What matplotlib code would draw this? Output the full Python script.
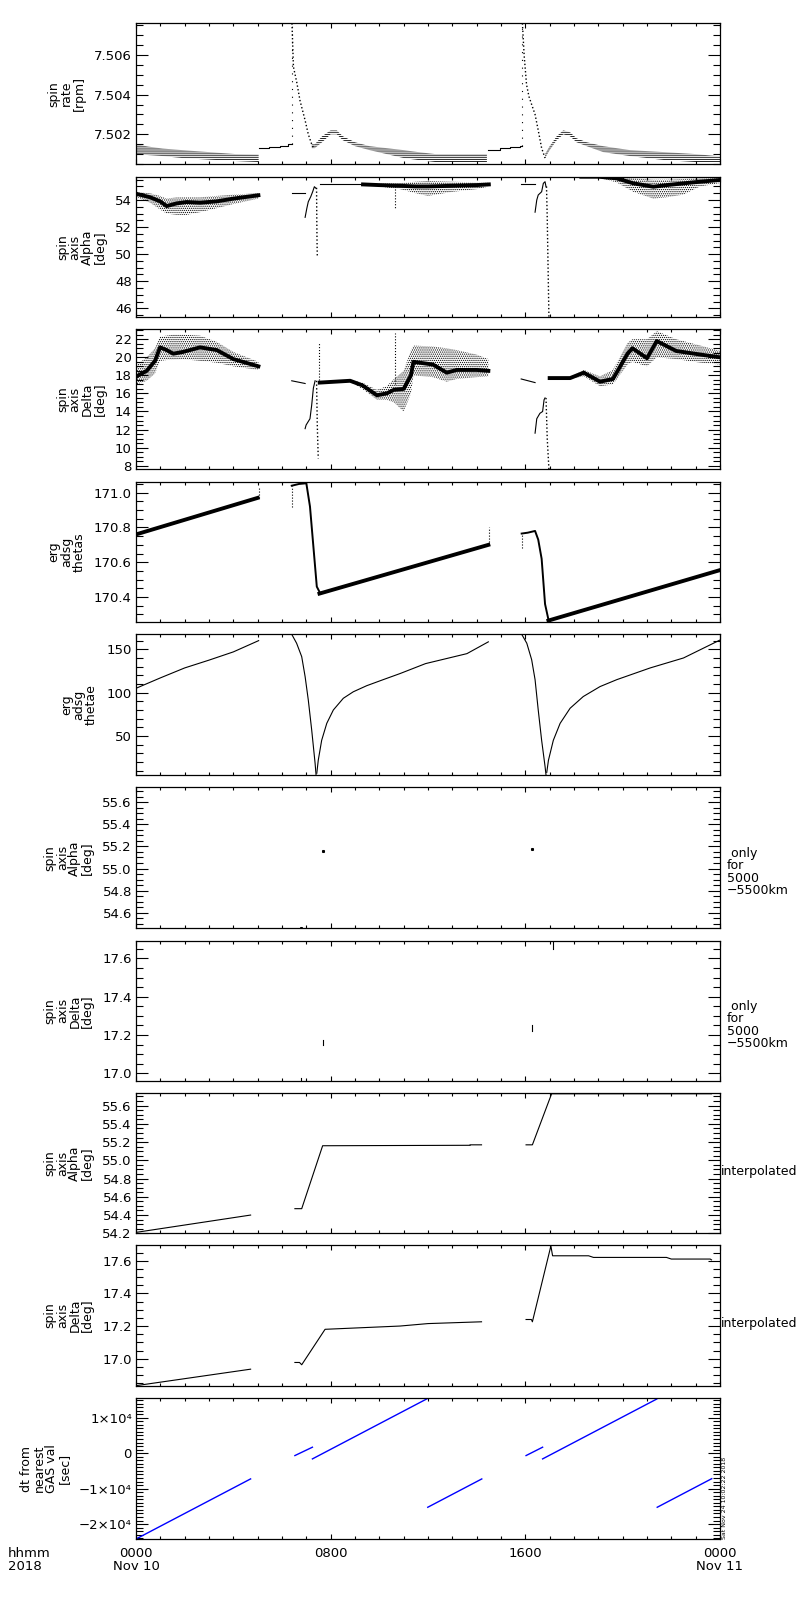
import numpy as np
import matplotlib
matplotlib.use("Agg")
import matplotlib.pyplot as plt
from matplotlib.ticker import MultipleLocator, FormatStrFormatter

plt.rcParams['font.family'] = ['DejaVu Sans']
plt.rcParams['hatch.linewidth'] = 0.6

# ---- data (hours from 2018-11-10 00:00) ----
# spin rate [rpm]: quantised bands (t, lower, upper) + steps + falling tails
rate_a_t = [0, 0.5, 1.1, 1.9, 3.0, 4.1, 5.04]
rate_a_lo = [7.5010, 7.50095, 7.5009, 7.5008, 7.50072, 7.50065, 7.5006]
rate_a_hi = [7.5015, 7.50138, 7.50128, 7.5012, 7.5011, 7.5010, 7.50098]
rate_b_t = [7.22, 7.35, 7.65, 8.0, 8.25, 8.5, 9.0, 9.6, 10.3, 11.0, 11.6, 12.3, 13.3, 14.42]
rate_b_lo = [7.5013, 7.5013, 7.5016, 7.5020, 7.5020, 7.5017, 7.5014, 7.5012, 7.5010, 7.5008, 7.5007, 7.5006, 7.5006, 7.5006]
rate_b_hi = [7.5015, 7.5015, 7.5019, 7.5022, 7.5022, 7.5019, 7.5016, 7.5014, 7.5013, 7.5012, 7.5011, 7.5010, 7.5010, 7.5010]
rate_c_t = [16.81, 17.0, 17.29, 17.56, 17.84, 18.1, 18.52, 19.2, 20.3, 21.7, 23.0, 23.86, 24.0]
rate_c_lo = [7.5008, 7.5012, 7.5017, 7.5020, 7.5019, 7.5016, 7.5014, 7.5011, 7.5009, 7.5007, 7.5006, 7.5006, 7.5006]
rate_c_hi = [7.5010, 7.5014, 7.5019, 7.5022, 7.5021, 7.5018, 7.5016, 7.5014, 7.5012, 7.5011, 7.5010, 7.5009, 7.5009]
rate_s1_t = [5.04, 5.48, 5.9, 6.23, 6.41]
rate_s1 = [7.5013, 7.50135, 7.50143, 7.5015, 7.5015]
rate_s2_t = [14.45, 14.96, 15.37, 15.78, 15.85]
rate_s2 = [7.5012, 7.5013, 7.50135, 7.5014, 7.5014]
rate_f1_t = [6.41, 6.47, 6.61, 6.74, 6.95, 7.08, 7.22, 7.30]
rate_f1 = [7.5076, 7.5054, 7.5046, 7.5037, 7.5027, 7.5020, 7.5015, 7.5013]
rate_f2_t = [15.88, 15.95, 16.05, 16.15, 16.26, 16.40, 16.53, 16.67, 16.81]
rate_f2 = [7.5076, 7.5060, 7.5045, 7.5039, 7.5035, 7.5030, 7.5022, 7.5013, 7.5008]
rate_spikes = [(6.41, 7.5015), (15.85, 7.5014)]

# spin axis Alpha [deg]
alpha_a_t = [0.03, 0.58, 0.99, 1.26, 1.67, 2.08, 2.63, 3.32, 4.0, 5.03]
alpha_a = [54.45, 54.2, 53.9, 53.55, 53.75, 53.85, 53.8, 53.9, 54.1, 54.35]
alpha_a_hi = [54.6, 54.5, 54.3, 54.1, 54.2, 54.2, 54.2, 54.3, 54.4, 54.5]
alpha_a_lo = [54.2, 53.8, 53.3, 53.0, 52.9, 52.9, 53.1, 53.4, 53.7, 54.1]
alpha_b_t = [9.33, 10.0, 10.85, 11.5, 12.0, 13.0, 14.0, 14.5]
alpha_b = [55.15, 55.1, 55.05, 55.0, 55.0, 55.05, 55.1, 55.15]
alpha_b_hi = [55.2, 55.2, 55.25, 55.35, 55.4, 55.35, 55.3, 55.3]
alpha_b_lo = [55.1, 55.0, 54.8, 54.5, 54.3, 54.6, 54.8, 55.0]
alpha_c_t = [18.3, 19.0, 19.75, 20.44, 21.26, 21.81, 22.5, 23.18, 24.0]
alpha_c = [55.72, 55.72, 55.6, 55.23, 54.98, 55.1, 55.23, 55.35, 55.48]
alpha_c_hi = [55.75, 55.75, 55.75, 55.6, 55.5, 55.5, 55.55, 55.6, 55.65]
alpha_c_lo = [55.65, 55.65, 55.3, 54.6, 54.1, 54.2, 54.4, 55.0, 55.25]
alpha_seg1_t = [6.4, 6.95]
alpha_seg1 = [54.54, 54.54]
alpha_rise1_t = [6.95, 7.02, 7.08, 7.18, 7.26, 7.33, 7.40]
alpha_rise1 = [52.72, 53.38, 53.87, 54.24, 54.61, 54.98, 54.86]
alpha_drop1_t = [7.42, 7.43, 7.44, 7.45]
alpha_drop1 = [54.9, 52.5, 50.9, 49.9]
alpha_flat1_t = [7.55, 9.33]
alpha_flat1 = [55.18, 55.18]
alpha_seg2_t = [15.83, 16.4]
alpha_seg2 = [55.18, 55.18]
alpha_rise2_t = [16.40, 16.47, 16.53, 16.67, 16.74, 16.81, 16.85]
alpha_rise2 = [53.10, 54.0, 54.37, 54.61, 55.23, 55.35, 54.98]
alpha_drop2_t = [16.87, 16.9, 16.93, 16.97]
alpha_drop2 = [55.0, 52.7, 49.5, 45.3]

# spin axis Delta [deg]
delta_a_t = [0.03, 0.44, 0.78, 0.99, 1.26, 1.53, 1.94, 2.63, 3.32, 4.0, 5.03]
delta_a = [17.9, 18.5, 19.6, 21.1, 20.8, 20.4, 20.6, 21.1, 20.8, 19.8, 19.0]
delta_a_hi = [19.2, 20.0, 21.0, 22.3, 22.4, 22.5, 22.5, 22.4, 21.7, 20.6, 19.5]
delta_a_lo = [17.0, 17.4, 18.2, 19.6, 19.7, 19.7, 19.8, 19.6, 19.4, 19.0, 18.6]
delta_b_t = [7.55, 8.8, 9.3, 9.9, 10.3, 10.6, 11.0, 11.3, 11.4, 12.2, 12.77, 13.18, 14.0, 14.48]
delta_b = [17.2, 17.4, 16.9, 15.8, 16.0, 16.4, 16.5, 18.0, 19.5, 19.2, 18.3, 18.6, 18.6, 18.5]
delta_b_hi = [17.3, 17.5, 17.2, 16.4, 16.8, 17.6, 18.5, 20.8, 21.3, 21.2, 21.0, 20.8, 20.3, 19.8]
delta_b_lo = [17.1, 17.3, 16.5, 15.3, 15.3, 15.0, 14.0, 16.0, 18.0, 17.8, 17.3, 17.6, 17.8, 17.9]
delta_c_t = [17.0, 17.84, 18.4, 19.07, 19.6, 20.2, 20.4, 21.0, 21.4, 22.2, 23.2, 24.0]
delta_c = [17.7, 17.7, 18.3, 17.3, 17.6, 20.4, 21.0, 19.9, 21.8, 20.7, 20.3, 20.0]
delta_c_hi = [17.8, 17.8, 18.6, 17.9, 18.6, 21.6, 22.0, 22.0, 22.9, 22.0, 21.3, 20.7]
delta_c_lo = [17.6, 17.6, 17.9, 16.8, 17.0, 19.2, 19.5, 19.0, 20.0, 19.8, 19.4, 19.2]
delta_seg1_t = [6.4, 6.95]
delta_seg1 = [17.4, 17.1]
delta_rise1_t = [6.95, 6.99, 7.15, 7.22, 7.29, 7.36]
delta_rise1 = [12.1, 12.5, 13.2, 14.7, 16.6, 17.4]
delta_drop1_t = [7.42, 7.45, 7.49]
delta_drop1 = [17.4, 12.5, 8.8]
delta_seg2_t = [15.83, 16.4]
delta_seg2 = [17.6, 17.2]
delta_rise2_t = [16.40, 16.47, 16.6, 16.71, 16.77, 16.81]
delta_rise2 = [11.6, 13.2, 13.8, 14.0, 15.3, 15.5]
delta_drop2_t = [16.85, 16.9, 16.97]
delta_drop2 = [15.5, 11.0, 7.6]
delta_spikes = [(7.5, 17.2, 21.7), (10.65, 17.0, 22.7)]

# erg adsg thetas
thetas_a_t = [0, 5.0]
thetas_a = [170.76, 170.97]
thetas_e1_t = [6.4, 6.7, 7.0, 7.15, 7.29, 7.43, 7.54]
thetas_e1 = [171.04, 171.05, 171.054, 170.92, 170.69, 170.46, 170.43]
thetas_b_t = [7.54, 14.48]
thetas_b = [170.42, 170.70]
thetas_e2_t = [15.85, 16.1, 16.4, 16.53, 16.67, 16.81, 16.95]
thetas_e2 = [170.765, 170.77, 170.78, 170.73, 170.62, 170.36, 170.27]
thetas_c_t = [16.95, 24.0]
thetas_c = [170.265, 170.555]
thetas_spikes = [(5.04, 170.97, 171.035), (6.4, 170.92, 171.04), (14.5, 170.70, 170.80), (15.85, 170.68, 170.765)]

# erg adsg thetae
thetae_a_t = [0, 1.0, 2.0, 3.0, 4.0, 5.04]
thetae_a = [105, 117, 128.5, 137.5, 147, 160]
thetae_f1_t = [6.40, 6.60, 6.81, 6.95, 7.08, 7.22, 7.36, 7.40]
thetae_f1 = [167.3, 157, 141.5, 118.5, 91.6, 57, 18.5, 5]
thetae_r1_t = [7.43, 7.49, 7.63, 7.84, 8.11, 8.52, 8.93, 9.48, 10.16, 10.85, 11.9, 13.6, 14.48]
thetae_r1 = [7, 22, 45, 64.6, 80, 93.5, 101, 108, 115, 122, 133.5, 145, 158.6]
thetae_f2_t = [15.85, 16.06, 16.26, 16.4, 16.53, 16.67, 16.81, 16.85]
thetae_f2 = [167.3, 157, 138, 115, 80, 45, 15, 5]
thetae_r2_t = [16.88, 16.95, 17.15, 17.43, 17.84, 18.38, 19.07, 19.76, 21.13, 22.5, 24.0]
thetae_r2 = [8, 22, 45, 64.6, 82, 95.5, 107, 115, 128.5, 140, 160.7]

# 5000-5500 km only
alpha_km_t = [6.8, 7.67, 16.26]
alpha_km = [54.465, 55.155, 55.18]
delta_km = [(6.8, 16.962, 16.975), (7.67, 17.148, 17.174), (16.26, 17.22, 17.25), (17.15, 17.65, 17.69)]

# interpolated
alpha_i_segs = [([0, 4.71], [54.21, 54.40]),
                ([6.53, 6.81, 7.67, 13.73, 13.73, 14.2], [54.47, 54.47, 55.16, 55.165, 55.17, 55.17]),
                ([16.03, 16.29, 17.08, 23.65], [55.17, 55.17, 55.73, 55.73])]
delta_i_segs = [([0, 4.71], [16.835, 16.936]),
                ([6.53, 6.72, 6.81, 7.77, 10.85, 12.0, 14.2], [16.977, 16.977, 16.963, 17.18, 17.2, 17.215, 17.226]),
                ([16.03, 16.25, 16.29, 17.05, 17.12, 18.6, 18.8, 21.8, 22.0, 23.6, 23.65],
                 [17.24, 17.24, 17.226, 17.69, 17.63, 17.63, 17.62, 17.62, 17.61, 17.61, 17.605])]

# dt from nearest GAS value [sec]
dt_segs = [([0, 4.71], [-24200, -7250]),
           ([6.53, 7.25], [-670, 1690]),
           ([7.25, 11.95], [-1610, 15310]),
           ([11.99, 14.21], [-15250, -7260]),
           ([16.03, 16.71], [-670, 1690]),
           ([16.71, 21.4], [-1610, 15270]),
           ([21.42, 23.66], [-15250, -7190])]

# ---- layout (pixel rows of each panel, 800x1600 canvas) ----
W, H = 800, 1600
X0, X1 = 136, 720
ROWS = [(23.3, 164), (176.7, 317.3), (329.3, 469.3), (481.7, 622.3), (634.3, 775),
        (787.3, 928.3), (940.7, 1081), (1093.3, 1233.3), (1245, 1386), (1398.3, 1539)]

YCFG = [  # ylim, major, minor, format, label
    ((7.5005, 7.5076), 0.002, 0.0005, '%.3f', 'spin\nrate\n[rpm]'),
    ((45.34, 55.72), 2, 0.5, '%d', 'spin\naxis\nAlpha\n[deg]'),
    ((7.6, 23.1), 2, 0.5, '%d', 'spin\naxis\nDelta\n[deg]'),
    ((170.255, 171.063), 0.2, 0.05, '%.1f', 'erg\nadsg\nthetas'),
    ((5, 167.3), 50, 10, '%d', 'erg\nadsg\nthetae'),
    ((54.458, 55.736), 0.2, 0.05, '%.1f', 'spin\naxis\nAlpha\n[deg]'),
    ((16.96, 17.692), 0.2, 0.05, '%.1f', 'spin\naxis\nDelta\n[deg]'),
    ((54.2, 55.735), 0.2, 0.05, '%.1f', 'spin\naxis\nAlpha\n[deg]'),
    ((16.833, 17.696), 0.2, 0.05, '%.1f', 'spin\naxis\nDelta\n[deg]'),
    ((-24200, 15480), 10000, 1000, None, 'dt from\nnearest\nGAS val\n[sec]'),
]

fig = plt.figure(figsize=(W / 100, H / 100), dpi=100)
axes = []
for (top, bot), (ylim, major, minor, fmt, label) in zip(ROWS, YCFG):
    ax = fig.add_axes([X0 / W, 1 - bot / H, (X1 - X0) / W, (bot - top) / H])
    ax.set_xlim(0, 24)
    ax.set_ylim(*ylim)
    ax.xaxis.set_major_locator(MultipleLocator(8))
    ax.xaxis.set_minor_locator(MultipleLocator(1))
    ax.yaxis.set_major_locator(MultipleLocator(major))
    ax.yaxis.set_minor_locator(MultipleLocator(minor))
    if fmt:
        ax.yaxis.set_major_formatter(FormatStrFormatter(fmt))
    ax.tick_params(which='both', direction='in', top=True, right=True, labelsize=9.5, pad=3, width=0.8)
    ax.tick_params(axis='y', which='major', length=8.6)
    ax.tick_params(axis='y', which='minor', length=4.8)
    ax.tick_params(axis='x', which='major', length=3.4)
    ax.tick_params(axis='x', which='minor', length=2.5)
    ax.tick_params(axis='x', labelbottom=False)
    for s in ax.spines.values():
        s.set_linewidth(0.9)
    ax.set_ylabel(label, fontsize=9, linespacing=0.95, labelpad=6)
    axes.append(ax)

k = dict(color='k', lw=0.8)


def band(ax, t, lo, hi, hatch):
    ax.fill_between(t, lo, hi, facecolor='none', edgecolor='k', hatch=hatch, lw=0)


# panel 1: spin rate
ax = axes[0]
for t, lo, hi in [(rate_a_t, rate_a_lo, rate_a_hi), (rate_b_t, rate_b_lo, rate_b_hi),
                  (rate_c_t, rate_c_lo, rate_c_hi)]:
    band(ax, t, lo, hi, '--------')
ax.plot(rate_s1_t, rate_s1, drawstyle='steps-post', **k)
ax.plot(rate_s2_t, rate_s2, drawstyle='steps-post', **k)
ax.plot(rate_f1_t, rate_f1, ls=':', color='k', lw=1.0)
ax.plot(rate_f2_t, rate_f2, ls=':', color='k', lw=1.0)
for t, v in rate_spikes:
    ax.plot([t, t], [v, 7.5076], ls=(0, (1, 6)), color='k', lw=0.8)

# panel 2: spin axis alpha
ax = axes[1]
for t, c, lo, hi in [(alpha_a_t, alpha_a, alpha_a_lo, alpha_a_hi),
                     (alpha_b_t, alpha_b, alpha_b_lo, alpha_b_hi),
                     (alpha_c_t, alpha_c, alpha_c_lo, alpha_c_hi)]:
    band(ax, t, lo, hi, '........')
    ax.plot(t, c, color='k', lw=2.8)
ax.plot(alpha_seg1_t, alpha_seg1, **k)
ax.plot(alpha_rise1_t, alpha_rise1, **k)
ax.plot(alpha_drop1_t, alpha_drop1, ls=':', color='k', lw=1.0)
ax.plot(alpha_flat1_t, alpha_flat1, **k)
ax.plot(alpha_seg2_t, alpha_seg2, **k)
ax.plot(alpha_rise2_t, alpha_rise2, **k)
ax.plot(alpha_drop2_t, alpha_drop2, ls=':', color='k', lw=1.0)
ax.plot([10.65, 10.65], [55.0, 53.4], ls=':', color='k', lw=0.8)

# panel 3: spin axis delta
ax = axes[2]
for t, c, lo, hi in [(delta_a_t, delta_a, delta_a_lo, delta_a_hi),
                     (delta_b_t, delta_b, delta_b_lo, delta_b_hi),
                     (delta_c_t, delta_c, delta_c_lo, delta_c_hi)]:
    band(ax, t, lo, hi, '........')
    ax.plot(t, c, color='k', lw=2.8)
ax.plot(delta_seg1_t, delta_seg1, **k)
ax.plot(delta_rise1_t, delta_rise1, **k)
ax.plot(delta_drop1_t, delta_drop1, ls=':', color='k', lw=1.0)
ax.plot(delta_seg2_t, delta_seg2, **k)
ax.plot(delta_rise2_t, delta_rise2, **k)
ax.plot(delta_drop2_t, delta_drop2, ls=':', color='k', lw=1.0)
for t, lo, hi in delta_spikes:
    ax.plot([t, t], [lo, hi], ls=':', color='k', lw=0.8)

# panel 4: thetas
ax = axes[3]
ax.plot(thetas_a_t, thetas_a, color='k', lw=2.8)
ax.plot(thetas_e1_t, thetas_e1, color='k', lw=1.4)
ax.plot(thetas_b_t, thetas_b, color='k', lw=2.8)
ax.plot(thetas_e2_t, thetas_e2, color='k', lw=1.4)
ax.plot(thetas_c_t, thetas_c, color='k', lw=2.8)
for t, lo, hi in thetas_spikes:
    ax.plot([t, t], [lo, hi], ls=':', color='k', lw=0.8)

# panel 5: thetae
ax = axes[4]
for t, v in [(thetae_a_t, thetae_a), (thetae_f1_t, thetae_f1), (thetae_r1_t, thetae_r1),
             (thetae_f2_t, thetae_f2), (thetae_r2_t, thetae_r2)]:
    ax.plot(t, v, **k)

# panels 6-7: 5000-5500 km only
axes[5].plot(alpha_km_t, alpha_km, 's', color='k', ms=1.2)
for t, lo, hi in delta_km:
    axes[6].plot([t, t], [lo, hi], **k)
for ax in axes[5:7]:
    ax.text(1.012, 0.40, ' only\nfor\n5000\n\u22125500km', transform=ax.transAxes,
            ha='left', va='center', fontsize=9, linespacing=0.93)

# panels 8-9: interpolated
for ax, segs in [(axes[7], alpha_i_segs), (axes[8], delta_i_segs)]:
    for t, v in segs:
        ax.plot(t, v, **k)
    ax.text(1.002, 0.44, 'interpolated', transform=ax.transAxes, ha='left', va='center', fontsize=9)

# panel 10: dt
ax = axes[9]
for t, v in dt_segs:
    ax.plot(t, v, color='#0000ff', lw=1.0)
ax.set_yticks([-20000, -10000, 0, 10000],
              ['\u22122\u00d710\u2074', '\u22121\u00d710\u2074', '0', '1\u00d710\u2074'])
ax.tick_params(axis='x', labelbottom=True, pad=6)
ax.set_xticks([0, 8, 16, 24], ['0000\nNov 10', '0800', '1600', '0000\nNov 11'])
for lab in ax.get_xticklabels():
    lab.set_linespacing(0.95)

fig.text(8 / W, 1 - 1547 / H, 'hhmm\n2018', ha='left', va='top', fontsize=9.5, linespacing=0.95)
fig.text(725 / W, 1 - 1539 / H, 'Sat Nov 24 10:02:22 2018', rotation=90, fontsize=4.5,
         ha='center', va='bottom')

fig.savefig('out.png', dpi=100)
